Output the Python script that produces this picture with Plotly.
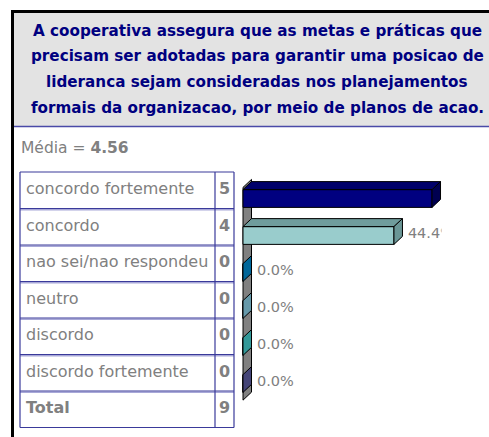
import plotly.graph_objects as go

# ---------------- data ----------------
categories = ["concordo fortemente", "concordo", "nao sei/nao respondeu",
              "neutro", "discordo", "discordo fortemente"]
counts = [5, 4, 0, 0, 0, 0]
percents = [55.6, 44.4, 0.0, 0.0, 0.0, 0.0]
total_label = "Total"
total_count = 9
mean_value = 4.56
title_lines = [
    "A cooperativa assegura que as metas e práticas que",
    "precisam ser adotadas para garantir uma posicao de",
    "lideranca sejam consideradas nos planejamentos",
    "formais da organizacao, por meio de planos de acao.",
]
front_colors = ["#000080", "#99CCCC", "#006699", "#6699AA", "#339999", "#444477"]
top_colors = ["#00006A", "#6F9C9C", "#004F77", "#4F7B8A", "#257878", "#33335C"]
side_colors = ["#000050", "#6A9696", "#005580", "#5A8898", "#2A8585", "#3A3A66"]

# ---------------- geometry helpers ----------------
W, H = 489, 437
def fx(p):
    return p / W
def fy(p):
    return 1 - p / H

PX_PER_PCT = 3.4
PX_PER_CAT = 37.0
X_LEFT_PX, X_ZERO_PX, X_RIGHT_PX = 240, 243, 441.5
Y_TOP_PX = 198.5 - 0.9 * PX_PER_CAT
Y_BOT_PX = 198.5 + 5.7 * PX_PER_CAT
DX = 8.5 / PX_PER_PCT      # depth offset in x data units
DY = 8.0 / PX_PER_CAT      # depth offset in y data units
BW = 0.48                  # bar thickness

pos = list(range(len(categories)))

fig = go.Figure()

# front faces
fig.add_trace(go.Bar(
    x=percents, y=pos, orientation="h", width=BW,
    marker=dict(color=front_colors, line=dict(color="black", width=1)),
    hoverinfo="skip", showlegend=False,
))

# top and side faces
for i, v in enumerate(percents):
    yt = pos[i] - BW / 2
    yb = pos[i] + BW / 2
    if v > 0:
        fig.add_trace(go.Scatter(
            x=[0, v, v + DX, DX, 0], y=[yt, yt, yt - DY, yt - DY, yt],
            fill="toself", fillcolor=top_colors[i], mode="lines",
            line=dict(color="black", width=1), hoverinfo="skip", showlegend=False,
        ))
    fig.add_trace(go.Scatter(
        x=[v, v + DX, v + DX, v, v], y=[yt, yt - DY, yb - DY, yb, yt],
        fill="toself", fillcolor=side_colors[i] if v > 0 else front_colors[i],
        mode="lines", line=dict(color="black", width=1),
        hoverinfo="skip", showlegend=False,
    ))

# value labels (clipped by plot area like the original)
fig.add_trace(go.Scatter(
    x=[v + DX + 1.6 for v in percents], y=[p - 0.04 for p in pos],
    text=[f"{v:.1f}%" for v in percents], mode="text", textposition="middle right",
    textfont=dict(family="DejaVu Sans", size=14.5, color="#808080"),
    cliponaxis=True, hoverinfo="skip", showlegend=False,
))

# ---------------- table on its own axes ----------------
TBL_L, TBL_SPLIT, TBL_R = 20, 215, 234
TBL_TOP, ROW_H = 172, 36.5
row_labels = categories + [f"<b>{total_label}</b>"]
row_counts = [f"<b>{c}</b>" for c in counts] + [f"<b>{total_count}</b>"]
rows = list(range(len(row_labels)))
n_rows = len(rows)
tw = TBL_R - TBL_L
split = TBL_SPLIT - TBL_L
pad_px = 2

fig.add_trace(go.Scatter(
    x=[6] * n_rows, y=rows, text=row_labels, mode="text", textposition="middle right",
    textfont=dict(family="DejaVu Sans", size=16, color="#808080"),
    xaxis="x2", yaxis="y2", hoverinfo="skip", showlegend=False, cliponaxis=False,
))
fig.add_trace(go.Scatter(
    x=[(split + tw) / 2] * n_rows, y=rows, text=row_counts, mode="text",
    textposition="middle center",
    textfont=dict(family="DejaVu Sans", size=16, color="#808080"),
    xaxis="x2", yaxis="y2", hoverinfo="skip", showlegend=False, cliponaxis=False,
))

GRID = "#3A3A9A"
GRID_LIGHT = "#A8A8D8"
shapes = [
    # outer frame
    dict(type="rect", xref="paper", yref="paper", x0=fx(12.5), x1=1.1, y0=-0.1, y1=fy(11.5),
         line=dict(color="black", width=3), fillcolor="rgba(0,0,0,0)", layer="below"),
    # title box
    dict(type="rect", xref="paper", yref="paper", x0=fx(14), x1=1.1, y0=fy(126), y1=fy(13),
         line=dict(width=0), fillcolor="#E3E3E3", layer="below"),
    dict(type="line", xref="paper", yref="paper", x0=fx(14), x1=1.0, y0=fy(126.5), y1=fy(126.5),
         line=dict(color="#4A4AA8", width=1.5)),
    # 3D wall behind the bars
    dict(type="path", xref="x", yref="y", layer="below",
         path=f"M0,{-0.5 + 0.2} L{DX},{-0.5 + 0.2 - DY} L{DX},{5.45 - DY} L0,{5.45} Z",
         fillcolor="#808080", line=dict(color="black", width=1)),
]
# table grid
for k in range(n_rows + 1):
    yk = k - 0.5
    if 0 < k < n_rows:
        shapes.append(dict(type="line", xref="x2", yref="y2", x0=0, x1=tw,
                           y0=yk + 1.2 / ROW_H, y1=yk + 1.2 / ROW_H,
                           line=dict(color=GRID_LIGHT, width=1.5)))
    shapes.append(dict(type="line", xref="x2", yref="y2", x0=0, x1=tw, y0=yk, y1=yk,
                       line=dict(color=GRID, width=1.2)))
for xv in (0, split, tw):
    shapes.append(dict(type="line", xref="x2", yref="y2", x0=xv, x1=xv,
                       y0=-0.5, y1=n_rows - 0.5, line=dict(color=GRID, width=1.2)))

annotations = []
for k, line in enumerate(title_lines):
    annotations.append(dict(
        text=f"<b>{line}</b>", x=fx(257), y=fy(30.5 + 25.7 * k), xref="paper", yref="paper",
        xanchor="center", yanchor="middle", showarrow=False,
        font=dict(family="DejaVu Sans", size=15.2, color="#000080"),
    ))
annotations.append(dict(
    text=f"Média = <b>{mean_value:.2f}</b>", x=fx(19), y=fy(148), xref="paper", yref="paper",
    xanchor="left", yanchor="middle", showarrow=False,
    font=dict(family="DejaVu Sans", size=15.5, color="#808080"),
))

tbl_bottom = TBL_TOP + n_rows * ROW_H
fig.update_layout(
    width=W, height=H, margin=dict(l=0, r=0, t=0, b=0),
    paper_bgcolor="white", plot_bgcolor="rgba(0,0,0,0)",
    xaxis=dict(domain=[fx(X_LEFT_PX), fx(X_RIGHT_PX)],
               range=[(X_LEFT_PX - X_ZERO_PX) / PX_PER_PCT, (X_RIGHT_PX - X_ZERO_PX) / PX_PER_PCT],
               showgrid=False, zeroline=False, showticklabels=False, fixedrange=True),
    yaxis=dict(domain=[fy(Y_BOT_PX), fy(Y_TOP_PX)], range=[5.7, -0.9],
               showgrid=False, zeroline=False, showticklabels=False, fixedrange=True),
    xaxis2=dict(domain=[fx(TBL_L - pad_px), fx(TBL_R + pad_px)], range=[-pad_px, tw + pad_px],
                anchor="y2", showgrid=False, zeroline=False, showticklabels=False,
                fixedrange=True),
    yaxis2=dict(domain=[fy(tbl_bottom + pad_px), fy(TBL_TOP - pad_px)],
                range=[n_rows - 0.5 + pad_px / ROW_H, -0.5 - pad_px / ROW_H],
                anchor="x2", showgrid=False, zeroline=False, showticklabels=False,
                fixedrange=True),
    shapes=shapes, annotations=annotations, showlegend=False,
)

fig.write_html("out.html", config={"displayModeBar": False},
               post_script="document.body.style.margin='0';document.body.style.overflow='hidden';")
